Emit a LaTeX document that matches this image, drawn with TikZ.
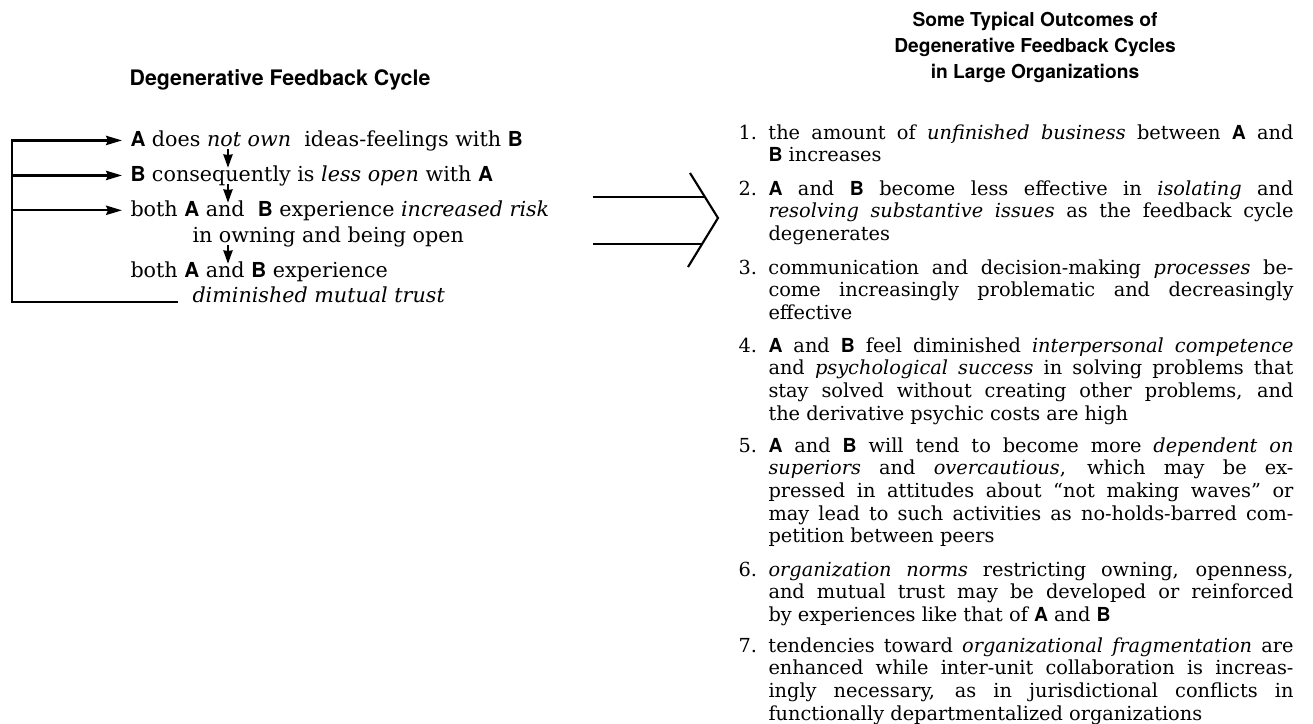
\documentclass[tikz,border=0pt]{standalone}
\usepackage{fontspec}
\setmainfont{DejaVu Serif}
\setsansfont{TeX Gyre Heros}
\usetikzlibrary{arrows.meta}

\newcommand{\pa}{{\sffamily\bfseries A}}
\newcommand{\pb}{{\sffamily\bfseries B}}
\newcommand{\onum}[1]{\llap{\makebox[22.5pt][l]{#1}}}

\tolerance=10000
\hyphenpenalty=10000
\exhyphenpenalty=10000

\tikzset{every picture/.style={line width=0.75pt}}
\tikzset{
	cycline/.style={anchor=base west, inner xsep=6pt, inner ysep=0.75pt, font=\fontsize{15.5}{18}\selectfont},
	outcome/.style={anchor=base west, inner sep=0pt, text width=393.75pt, align=justify, font=\fontsize{14.5}{17}\selectfont},
	headl/.style={inner sep=0.75pt, align=center, font=\sffamily\bfseries\fontsize{16}{19.5}\selectfont},
	headr/.style={inner sep=0.75pt, align=center, font=\sffamily\bfseries\fontsize{14.4}{19.5}\selectfont},
	looparrow/.style={line width=1.6pt, -{Stealth[length=12pt,width=7pt,inset=1.5pt]}},
	downarrow/.style={line width=1.1pt, -{Stealth[length=10pt,width=7pt,inset=0.5pt]}},
}

\begin{document}
\begin{tikzpicture}[x=0.75pt,y=0.75pt,yscale=-1,xscale=1]
	\useasboundingbox (0,0) rectangle (1313,724);
	
	% Text Node
	\node [headl, anchor=base] (cychead) at (280,85) {Degenerative Feedback Cycle};
	% Text Node
	\node [headr, anchor=north] (outhead) at (1035,11) {Some Typical Outcomes of\\Degenerative Feedback Cycles\\in Large Organizations};
	
	% Text Node
	\node [cycline] (l1) at (122,146) {\pa{} does \emph{not own}~ ideas-feelings with \pb};
	% Text Node
	\node [cycline] (l2) at (122,181) {\pb{} consequently is \emph{less open} with \pa};
	% Text Node
	\node [cycline] (l3) at (122,216) {both \pa{} and~ \pb{} experience \emph{increased risk}};
	% Text Node
	\node [cycline] (l3b) at (184,242) {in owning and being open};
	% Text Node
	\node [cycline] (l4) at (122,277) {both \pa{} and \pb{} experience};
	% Text Node
	\node [cycline] (l4b) at (184,302) {\emph{diminished mutual trust}};
	
	%Feedback loop
	\coordinate (fbx) at (12,0);
	\draw [looparrow] ([xshift=-4.5pt]l4b.base west) -- (fbx |- l4b.base) -- (fbx |- l1.west) -- (l1.west);
	\draw [looparrow] (fbx |- l2.west) -- (l2.west);
	\draw [looparrow] (fbx |- l3.west) -- (l3.west);
	
	%Down arrows (yshift runs downwards here)
	\coordinate (dx) at (228,0);
	\draw [downarrow] ([yshift=2.5pt]dx |- l1.base) -- ([yshift=-10pt]dx |- l2.base);
	\draw [downarrow] ([yshift=2.5pt]dx |- l2.base) -- ([yshift=-10pt]dx |- l3.base);
	\draw [downarrow] ([yshift=2.5pt]dx |- l3b.base) -- ([yshift=-10pt]dx |- l4.base);
	
	%Straight Lines
	\draw [line width=1pt] (593,197) -- (705,197);
	\draw [line width=1pt] (593,244) -- (702,244);
	%Shape: Chevron
	\draw [line width=1.6pt] (690,173) -- (718,218) -- (688,267);
	
	% Text Node
	\node [outcome] (o1) at (768,139) {\onum{1.}the amount of \emph{unfinished business} between \pa{} and\linebreak \pb{} increases};
	% Text Node
	\node [outcome] (o2) at (768,195) {\onum{2.}\pa{} and \pb{} become less effective in \emph{isolating} and\linebreak \emph{resolving substantive issues} as the feedback cycle\linebreak degenerates};
	% Text Node
	\node [outcome] (o3) at (768,274) {\onum{3.}communication and decision-making \emph{processes} be-\linebreak come increasingly problematic and decreasingly\linebreak effective};
	% Text Node
	\node [outcome] (o4) at (768,352) {\onum{4.}\pa{} and \pb{} feel diminished \emph{interpersonal competence}\linebreak and \emph{psychological success} in solving problems that\linebreak stay solved without creating other problems, and\linebreak the derivative psychic costs are high};
	% Text Node
	\node [outcome] (o5) at (768,452) {\onum{5.}\pa{} and \pb{} will tend to become more \emph{dependent on}\linebreak \emph{superiors} and \emph{overcautious}, which may be ex-\linebreak pressed in attitudes about “not making waves” or\linebreak may lead to such activities as no-holds-barred com-\linebreak petition between peers};
	% Text Node
	\node [outcome] (o6) at (768,576) {\onum{6.}\emph{organization norms} restricting owning, openness,\linebreak and mutual trust may be developed or reinforced\linebreak by experiences like that of \pa{} and \pb};
	% Text Node
	\node [outcome] (o7) at (768,652) {\onum{7.}tendencies toward \emph{organizational fragmentation} are\linebreak enhanced while inter-unit collaboration is increas-\linebreak ingly necessary, as in jurisdictional conflicts in\linebreak functionally departmentalized organizations};
	
\end{tikzpicture}
\end{document}
